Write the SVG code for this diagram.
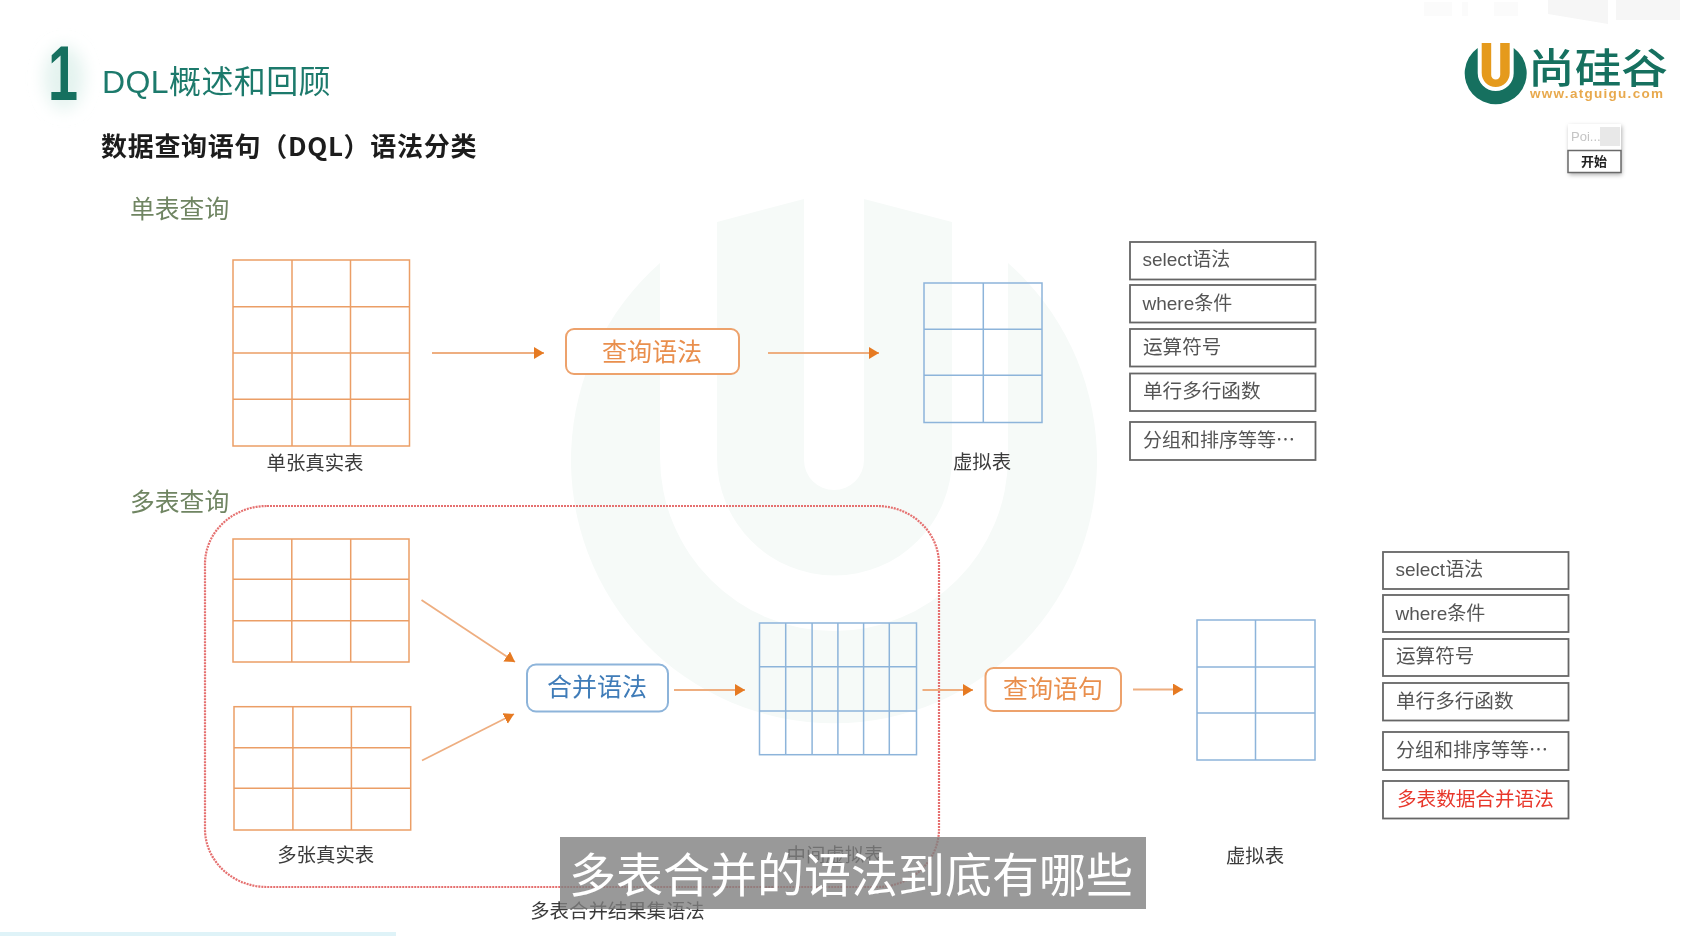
<svg xmlns="http://www.w3.org/2000/svg" width="1698" height="936" viewBox="0 0 1698 936">
<style>
text{font-family:"Noto Sans CJK SC","Liberation Sans",sans-serif}
.lat{font-family:"Liberation Sans","Noto Sans CJK SC",sans-serif}
.wm{fill:#f6faf8}
.org{fill:none;stroke:#eb9e66;stroke-width:1.5}
.blu{fill:none;stroke:#8db4da;stroke-width:1.5}
.lab{font-size:19.4px;fill:#3a3a3a;text-anchor:middle}
.sec{font-size:24.800px;fill:#6f8562}
.syn{font-size:25px;text-anchor:middle}
.pill{fill:#fff;stroke-width:2}
.item{fill:#fff;stroke:#666;stroke-width:1.8}
.itx{font-size:19.6px;fill:#555}
.con{fill:none;stroke:#eeae80;stroke-width:1.8;marker-end:url(#ah)}
</style>
<defs>
<marker id="ah" markerUnits="userSpaceOnUse" markerWidth="12" markerHeight="14" refX="10" refY="6" orient="auto"><path d="M0,0L10,6L0,12Z" fill="#e67a22"/></marker>
<filter id="soft" x="-5%" y="-5%" width="110%" height="110%"><feGaussianBlur stdDeviation="0.5"/></filter>
<filter id="glow" x="-60%" y="-60%" width="220%" height="220%"><feGaussianBlur stdDeviation="8"/></filter>
<filter id="shadow" x="-20%" y="-20%" width="140%" height="140%"><feDropShadow dx="1" dy="2" stdDeviation="2" flood-color="#000" flood-opacity="0.3"/></filter>
</defs>
<rect width="1698" height="936" fill="#fff"/>
<g id="watermark" transform="translate(834,455)">
<path class="wm" d="M-174,-192A263,263 0 1 0 174,-192L174,2A174,174 0 0 1 -174,2Z"/>
<path class="wm" d="M-117,-233L-30,-256L-30,5A30,30 0 0 0 30,5L30,-256L118,-233L118,3A117.5,117.5 0 0 1 -117,3Z"/>
</g>
<g id="player-marks" fill="#f6f6f6">
<path d="M1548,0H1608V24L1548,14ZM1616,0H1680V20H1616Z"/>
<path d="M1424,2H1452V16H1424ZM1462,2H1468V16H1462ZM1494,2H1518V16H1494Z" fill="#fbfbfb"/>
</g>
<g filter="url(#soft)">
<g id="header">
<ellipse cx="64" cy="78" rx="20" ry="32" fill="#e4f3ef" filter="url(#glow)"/>
<text class="lat" x="48" y="100" font-size="77" font-weight="700" fill="#13705f" textLength="30" lengthAdjust="spacingAndGlyphs">1</text>
<text x="102" y="93" font-size="32" fill="#1f7a6c" class="lat" letter-spacing="0.4">DQL概述和回顾</text>
<text x="101" y="156" font-size="26" font-weight="700" fill="#1c1c1c" letter-spacing="0.7">数据查询语句（DQL）语法分类</text>
</g>
<g id="logo">
<g transform="translate(1495.7,73)">
<path fill="#13705f" d="M-18,-25A31,31 0 1 0 18,-25L18,0A18,18 0 0 1 -18,0Z"/>
<path fill="#e59a1f" d="M-14,-30L-4.5,-30L-4.5,2A4.5,4.5 0 0 0 4.5,2L4.5,-30L14,-30L14,0A14,14 0 0 1 -14,0Z"/>
</g>
<text x="1528" y="83" font-size="41" fill="#13705f" font-weight="500" textLength="140" lengthAdjust="spacingAndGlyphs">尚硅谷</text>
<text class="lat" x="1530" y="98" font-size="13.500" font-weight="700" fill="#e8a94d" textLength="133">www.atguigu.com</text>
</g>
<g id="start-widget">
<rect x="1568" y="124" width="53" height="49" fill="#fff" filter="url(#shadow)"/>
<text class="lat" x="1571" y="141" font-size="13" fill="#c4c4c4">Poi...</text>
<rect x="1600" y="127" width="20" height="19" fill="#e8e8e8"/>
<rect x="1568" y="150.500" width="53" height="22" fill="#fff" stroke="#6a6a6a" stroke-width="1.500"/>
<text x="1594" y="166" font-size="13" font-weight="700" fill="#222" text-anchor="middle">开始</text>
</g>
<text id="title-single" class="sec" x="130" y="218">单表查询</text>
<text id="title-multi" class="sec" x="130" y="511">多表查询</text>
<g id="merge-region"><rect x="205" y="506" width="734" height="381" rx="62" ry="58" fill="none" stroke="#e5706f" stroke-width="2.2" stroke-dasharray="2 1"/></g>
<g id="connectors">
<path class="con" d="M432,353H544"/>
<path class="con" d="M768,353H879"/>
<path class="con" d="M421.500,600L515,662"/>
<path class="con" d="M422,760.500L514,714"/>
<path class="con" d="M674,690H745"/>
<path class="con" d="M922.500,690H973"/>
<path class="con" d="M1133,689.500H1183"/>
</g>
<g id="table-single"><rect class="org" x="233" y="260" width="176.500" height="186"/><path class="org" d="M292,260V446M350.500,260V446M233,306.700H409.500M233,353H409.500M233,399.300H409.500"/>
<text class="lab" x="315" y="470">单张真实表</text></g>
<g id="node-query-syntax"><rect class="pill" x="566" y="329" width="173" height="45" rx="8" stroke="#eda26c"/><text class="syn" x="652" y="361" fill="#e98f4e">查询语法</text></g>
<g id="table-virtual-1"><rect class="blu" x="924" y="283" width="118" height="139.500"/><path class="blu" d="M983.300,283V422.500M924,329.300H1042M924,375.300H1042"/>
<text class="lab" x="982" y="469">虚拟表</text></g>
<g id="list-1">
<rect class="item" x="1130" y="242" width="185.500" height="37.500"/><text class="itx lat" x="1142.500" y="266" style="font-size:19px">select语法</text>
<rect class="item" x="1130" y="285" width="185.500" height="37.500"/><text class="itx lat" x="1142.500" y="310" style="font-size:19px">where条件</text>
<rect class="item" x="1130" y="329" width="185.500" height="37.500"/><text class="itx" x="1143" y="354">运算符号</text>
<rect class="item" x="1130" y="373.500" width="185.500" height="37.500"/><text class="itx" x="1143" y="398">单行多行函数</text>
<rect class="item" x="1130" y="422" width="185.500" height="38"/><text class="itx" x="1143" y="447" style="font-size:19px">分组和排序等等…</text>
</g>
<g id="table-multi-1"><rect class="org" x="233" y="539" width="176" height="123"/><path class="org" d="M291.800,539V662M350.700,539V662M233,579.300H409M233,620.700H409"/></g>
<g id="table-multi-2"><rect class="org" x="234" y="706.700" width="176.700" height="123.300"/><path class="org" d="M292.900,706.700V830M351.400,706.700V830M234,747.700H410.700M234,788.300H410.700"/>
<text class="lab" x="325.700" y="862">多张真实表</text></g>
<g id="node-merge-syntax"><rect class="pill" x="527" y="664.500" width="141" height="47" rx="9" stroke="#8db4da"/><text class="syn" x="597" y="696" fill="#3f7cb8">合并语法</text></g>
<g id="table-intermediate"><rect class="blu" x="759.500" y="623" width="157" height="131.700"/><path class="blu" d="M785.700,623V754.700M812.100,623V754.700M837.900,623V754.700M863.600,623V754.700M889.300,623V754.700M759.500,666.700H916.500M759.500,711H916.500"/>
<text class="lab" x="835" y="862">中间虚拟表</text></g>
<g id="node-query-statement"><rect class="pill" x="985.500" y="668" width="135.500" height="43" rx="8" stroke="#eda26c"/><text class="syn" x="1053" y="698" fill="#e98f4e">查询语句</text></g>
<g id="table-virtual-2"><rect class="blu" x="1197" y="620" width="118" height="140"/><path class="blu" d="M1255.500,620V760M1197,667H1315M1197,713H1315"/>
<text class="lab" x="1255" y="863">虚拟表</text></g>
<g id="list-2">
<rect class="item" x="1383" y="552" width="185.500" height="37"/><text class="itx lat" x="1395.500" y="576" style="font-size:19px">select语法</text>
<rect class="item" x="1383" y="595" width="185.500" height="37"/><text class="itx lat" x="1395.500" y="620" style="font-size:19px">where条件</text>
<rect class="item" x="1383" y="639" width="185.500" height="37"/><text class="itx" x="1396" y="663">运算符号</text>
<rect class="item" x="1383" y="683" width="185.500" height="37.500"/><text class="itx" x="1396" y="708">单行多行函数</text>
<rect class="item" x="1383" y="732" width="185.500" height="38"/><text class="itx" x="1396" y="757" style="font-size:19px">分组和排序等等…</text>
<rect class="item" x="1383" y="781" width="185.500" height="37.500"/><text class="itx" x="1397" y="806" style="fill:#e8372c">多表数据合并语法</text>
</g>
<text id="label-merge-result" class="lab" x="617.500" y="918" style="font-size:19.4px">多表合并结果集语法</text>
</g>
<rect id="bottom-bar" x="0" y="932" width="396" height="4" fill="#dff3f8"/>
<g id="caption">
<rect x="560" y="837" width="586" height="72" fill="#7f7f7f" fill-opacity="0.8"/>
<text x="569" y="892" font-size="47" fill="#fff">多表合并的语法到底有哪些</text>
</g>
</svg>
